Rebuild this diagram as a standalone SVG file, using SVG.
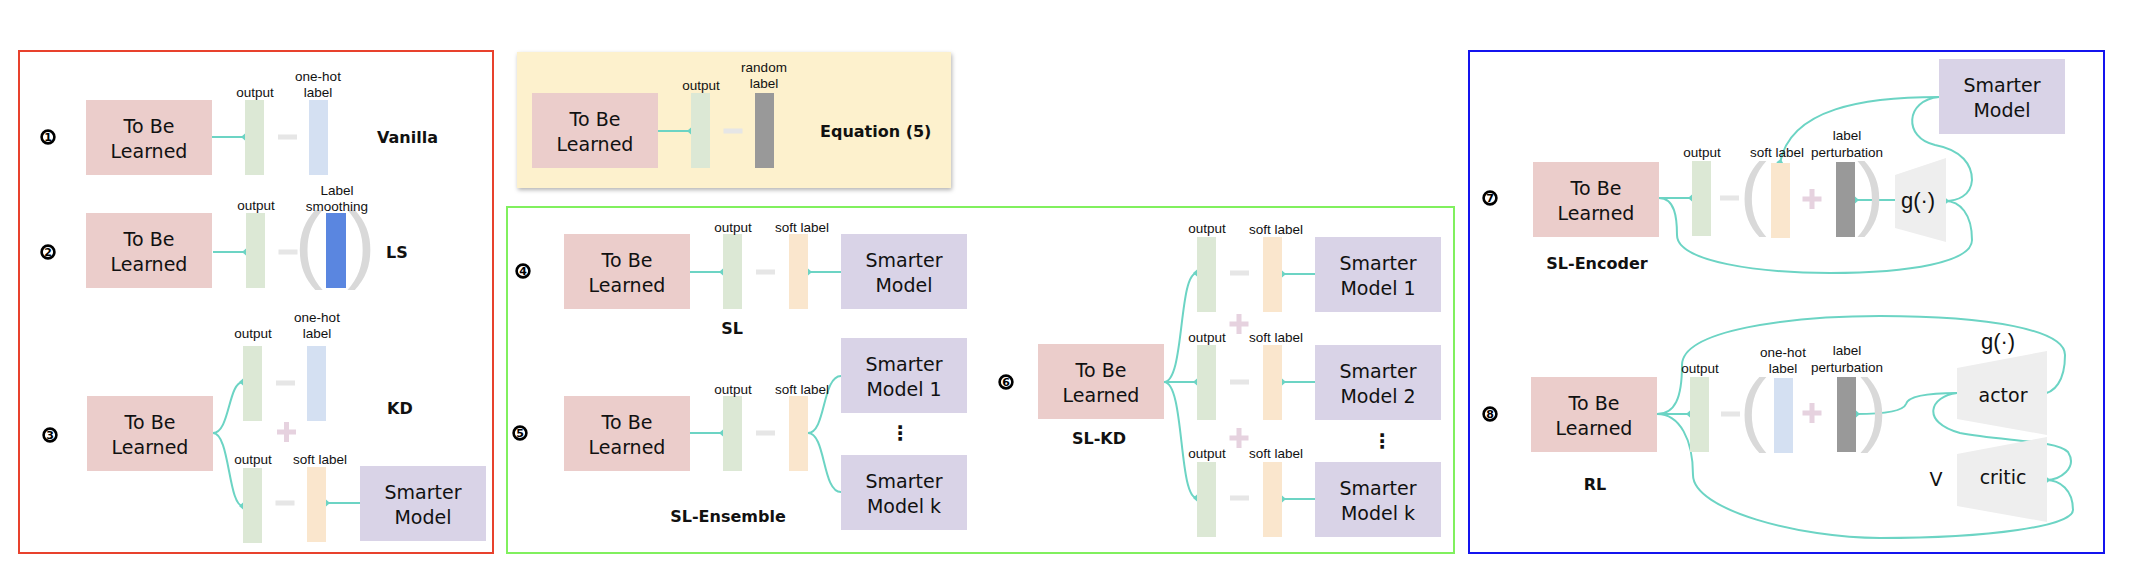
<svg xmlns="http://www.w3.org/2000/svg" xmlns:xlink="http://www.w3.org/1999/xlink" width="2130" height="570" viewBox="0 0 2130 570">
<style>
.tb{fill:#ebcdcb}
.sm{fill:#d9d3e7}
.out{fill:#dce8d5}
.oh{fill:#d4e0f2}
.sf{fill:#fae6cd}
.gr{fill:#999999}
.trap{fill:#eeeeee}
.t{font-family:"DejaVu Sans",sans-serif;font-size:19px;text-anchor:middle;fill:#111}
.s{font-family:"Liberation Sans",Arial,sans-serif;font-size:13.5px;text-anchor:middle;fill:#111}
.b{font-family:"DejaVu Sans",sans-serif;font-weight:bold;font-size:16px;fill:#111}
.bm{text-anchor:middle}
.par{font-family:"Liberation Sans",Arial,sans-serif;fill:#d9d9d9}
.g{font-family:"Liberation Sans",Arial,sans-serif;font-size:22px;text-anchor:middle;fill:#111}
.c{fill:none;stroke:#6cd4c4;stroke-width:2}
.d{marker-end:url(#dm)}
.num circle{fill:#fff;stroke:#000;stroke-width:2.6}
.num text{font-family:"DejaVu Sans",sans-serif;font-weight:bold;font-size:11px;text-anchor:middle;fill:#000}
.dots{font-family:"DejaVu Sans",sans-serif;font-size:20px;font-weight:bold;text-anchor:middle;fill:#111}
</style>
<defs>
<marker id="dm" viewBox="-5 -5 10 10" markerWidth="10" markerHeight="10" refX="0" refY="0" orient="auto" markerUnits="userSpaceOnUse">
<path d="M-4,0 L0,-3.6 L4,0 L0,3.6Z" fill="#6cd4c4"/>
</marker>
<g id="minus"><rect x="-9.5" y="-2.5" width="19" height="5" fill="#e6e6e6"/></g>
<g id="plus" fill="#e6d2df"><rect x="-9.5" y="-2.5" width="19" height="5"/><rect x="-2.5" y="-10" width="5" height="20"/></g>
<filter id="shadow" x="-5%" y="-10%" width="110%" height="125%">
<feDropShadow dx="1" dy="2" stdDeviation="2" flood-color="#000" flood-opacity="0.3"/>
</filter>
</defs>
<rect width="2130" height="570" fill="#fff"/>

<!-- Panels -->
<g id="panels">
<rect x="19" y="51" width="474" height="502" fill="none" stroke="#e8412d" stroke-width="2"/>
<rect x="517" y="52" width="434" height="136" fill="#fdf1cd" filter="url(#shadow)"/>
<rect x="507" y="207" width="947" height="346" fill="none" stroke="#80f05e" stroke-width="2"/>
<rect x="1469" y="51" width="635" height="502" fill="none" stroke="#1414ee" stroke-width="2"/>
</g>

<!-- Connectors -->
<g id="connectors">
<path class="c d" d="M212,137 L245,137"/>
<path class="c d" d="M213,252 L246,252"/>
<path class="c d" d="M213,433 C230,433 228,382 243,382"/>
<path class="c d" d="M213,433 C230,433 228,506 243,506"/>
<path class="c d" d="M360,503 L326,503"/>
<path class="c d" d="M658,131 L691,131"/>
<path class="c d" d="M690,272 L723,272"/>
<path class="c d" d="M841,272 L808,272"/>
<path class="c d" d="M690,433 L723,433"/>
<path class="c" d="M808,433 C826,433 822,376 841,376"/>
<path class="c" d="M808,433 C826,433 822,492 841,492"/>
<path class="c d" d="M1164,382 C1185,382 1178,273 1197,273"/>
<path class="c d" d="M1164,382 L1197,382"/>
<path class="c d" d="M1164,382 C1185,382 1178,498 1197,498"/>
<path class="c d" d="M1315,274 L1282,274"/>
<path class="c d" d="M1315,382 L1282,382"/>
<path class="c d" d="M1315,499 L1282,499"/>
<path class="c d" d="M1659,198 L1692,198"/>
<path class="c d" d="M1659,198 C1675,198 1677,218 1677,235 C1677,262 1760,273 1830,273 C1910,273 1972,262 1972,240 C1972,214 1960,201 1945,201"/>
<path class="c d" d="M1939,97 C1865,97 1790,108 1780,163"/>
<path class="c d" d="M1939,97 C1905,100 1903,138 1935,145 C1962,150 1972,165 1972,180 C1971,196 1957,201 1945,201"/>
<path class="c d" d="M1895,200 L1855,200"/>
<path class="c d" d="M1657,414 L1690,414"/>
<path class="c d" d="M1657,414 C1675,414 1682,398 1682,365 C1682,330 1790,316 1880,316 C1990,316 2065,330 2065,355 C2065,380 2055,394 2040,394"/>
<path class="c d" d="M1657,414 C1680,414 1693,440 1693,475 C1693,510 1800,538 1880,538 C1990,538 2073,526 2073,510 C2073,490 2060,480 2046,480"/>
<path class="c d" d="M1957,393 C1925,393 1908,397 1906,404 C1903,412 1880,414 1856,414"/>
<path class="c d" d="M1957,393 C1930,396 1920,422 1960,433 C2000,441 2058,440 2068,452 C2078,468 2060,480 2046,480"/>
</g>

<!-- Row 1: Vanilla -->
<g id="n1">
<g class="num"><circle cx="48" cy="137" r="6.4"/><text x="48" y="141">1</text></g>
<rect class="tb" x="86" y="100" width="126" height="75"/>
<text class="t" x="149" y="133">To Be</text><text class="t" x="149" y="158">Learned</text>
<rect class="out" x="245" y="100" width="19" height="75"/>
<text class="s" x="255" y="97">output</text>
<use href="#minus" x="287.5" y="137"/>
<rect class="oh" x="309" y="100" width="19" height="75"/>
<text class="s" x="318" y="81">one-hot</text><text class="s" x="318" y="97">label</text>
<text class="b" x="377" y="143">Vanilla</text>
</g>

<!-- Row 2: LS -->
<g id="n2">
<g class="num"><circle cx="48" cy="252" r="6.4"/><text x="48" y="256">2</text></g>
<rect class="tb" x="86" y="213" width="126" height="75"/>
<text class="t" x="149" y="246">To Be</text><text class="t" x="149" y="271">Learned</text>
<rect class="out" x="246" y="213" width="19" height="75"/>
<text class="s" x="256" y="210">output</text>
<use href="#minus" x="288" y="252"/>
<text class="par" x="294.5" y="271.5" font-size="86">(</text>
<rect x="326" y="213" width="20" height="75" fill="#5a86e0"/>
<text class="par" x="347" y="271.5" font-size="86">)</text>
<text class="s" x="337" y="195">Label</text><text class="s" x="337" y="211">smoothing</text>
<text class="b" x="386" y="258">LS</text>
</g>

<!-- Row 3: KD -->
<g id="n3">
<g class="num"><circle cx="50" cy="435" r="6.4"/><text x="50" y="439">3</text></g>
<rect class="tb" x="87" y="396" width="126" height="75"/>
<text class="t" x="150" y="429">To Be</text><text class="t" x="150" y="454">Learned</text>
<rect class="out" x="243" y="346" width="19" height="75"/>
<text class="s" x="253" y="338">output</text>
<use href="#minus" x="285.5" y="383"/>
<rect class="oh" x="307" y="346" width="19" height="75"/>
<text class="s" x="317" y="322">one-hot</text><text class="s" x="317" y="338">label</text>
<text class="b" x="387" y="414">KD</text>
<use href="#plus" x="286.5" y="432"/>
<rect class="out" x="243" y="468" width="19" height="75"/>
<text class="s" x="253" y="464">output</text>
<use href="#minus" x="285" y="503"/>
<rect class="sf" x="307" y="467" width="19" height="75"/>
<text class="s" x="320" y="464">soft label</text>
<rect class="sm" x="360" y="466" width="126" height="75"/>
<text class="t" x="423" y="499">Smarter</text><text class="t" x="423" y="524">Model</text>
</g>

<!-- Equation (5) -->
<g id="n-eq5">
<rect class="tb" x="532" y="93" width="126" height="75"/>
<text class="t" x="595" y="126">To Be</text><text class="t" x="595" y="151">Learned</text>
<rect class="out" x="691" y="93" width="19" height="75"/>
<text class="s" x="701" y="90">output</text>
<use href="#minus" x="733" y="131"/>
<rect class="gr" x="755" y="93" width="19" height="75"/>
<text class="s" x="764" y="72">random</text><text class="s" x="764" y="88">label</text>
<text class="b" x="820" y="137">Equation (5)</text>
</g>

<!-- Row 4: SL -->
<g id="n4">
<g class="num"><circle cx="523" cy="271" r="6.4"/><text x="523" y="275">4</text></g>
<rect class="tb" x="564" y="234" width="126" height="75"/>
<text class="t" x="627" y="267">To Be</text><text class="t" x="627" y="292">Learned</text>
<rect class="out" x="723" y="234" width="19" height="75"/>
<text class="s" x="733" y="232">output</text>
<use href="#minus" x="765.5" y="272"/>
<rect class="sf" x="789" y="234" width="19" height="75"/>
<text class="s" x="802" y="232">soft label</text>
<rect class="sm" x="841" y="234" width="126" height="75"/>
<text class="t" x="904" y="267">Smarter</text><text class="t" x="904" y="292">Model</text>
<text class="b bm" x="732" y="334">SL</text>
</g>

<!-- Row 5: SL-Ensemble -->
<g id="n5">
<g class="num"><circle cx="520" cy="433" r="6.4"/><text x="520" y="437">5</text></g>
<rect class="tb" x="564" y="396" width="126" height="75"/>
<text class="t" x="627" y="429">To Be</text><text class="t" x="627" y="454">Learned</text>
<rect class="out" x="723" y="396" width="19" height="75"/>
<text class="s" x="733" y="394">output</text>
<use href="#minus" x="765.5" y="433"/>
<rect class="sf" x="789" y="396" width="19" height="75"/>
<text class="s" x="802" y="394">soft label</text>
<rect class="sm" x="841" y="338" width="126" height="75"/>
<text class="t" x="904" y="371">Smarter</text><text class="t" x="904" y="396">Model 1</text>
<text class="dots" x="900" y="440">⋮</text>
<rect class="sm" x="841" y="455" width="126" height="75"/>
<text class="t" x="904" y="488">Smarter</text><text class="t" x="904" y="513">Model k</text>
<text class="b bm" x="728" y="522">SL-Ensemble</text>
</g>

<!-- Row 6: SL-KD -->
<g id="n6">
<g class="num"><circle cx="1006" cy="382" r="6.4"/><text x="1006" y="386">6</text></g>
<rect class="tb" x="1038" y="344" width="126" height="75"/>
<text class="t" x="1101" y="377">To Be</text><text class="t" x="1101" y="402">Learned</text>
<text class="b bm" x="1099" y="444">SL-KD</text>
<rect class="out" x="1197" y="237" width="19" height="75"/>
<rect class="out" x="1197" y="345" width="19" height="75"/>
<rect class="out" x="1197" y="462" width="19" height="75"/>
<text class="s" x="1207" y="233">output</text>
<text class="s" x="1207" y="342">output</text>
<text class="s" x="1207" y="458">output</text>
<use href="#minus" x="1239.5" y="273"/>
<use href="#minus" x="1239.5" y="382"/>
<use href="#minus" x="1239.5" y="498"/>
<use href="#plus" x="1239" y="324"/>
<use href="#plus" x="1239" y="438"/>
<rect class="sf" x="1263" y="237" width="19" height="75"/>
<rect class="sf" x="1263" y="345" width="19" height="75"/>
<rect class="sf" x="1263" y="462" width="19" height="75"/>
<text class="s" x="1276" y="234">soft label</text>
<text class="s" x="1276" y="342">soft label</text>
<text class="s" x="1276" y="458">soft label</text>
<rect class="sm" x="1315" y="237" width="126" height="75"/>
<text class="t" x="1378" y="270">Smarter</text><text class="t" x="1378" y="295">Model 1</text>
<rect class="sm" x="1315" y="345" width="126" height="75"/>
<text class="t" x="1378" y="378">Smarter</text><text class="t" x="1378" y="403">Model 2</text>
<text class="dots" x="1382" y="448">⋮</text>
<rect class="sm" x="1315" y="462" width="126" height="75"/>
<text class="t" x="1378" y="495">Smarter</text><text class="t" x="1378" y="520">Model k</text>
</g>

<!-- Row 7: SL-Encoder -->
<g id="n7">
<g class="num"><circle cx="1490" cy="198" r="6.4"/><text x="1490" y="202">7</text></g>
<rect class="tb" x="1533" y="162" width="126" height="75"/>
<text class="t" x="1596" y="195">To Be</text><text class="t" x="1596" y="220">Learned</text>
<text class="b bm" x="1597" y="269">SL-Encoder</text>
<rect class="out" x="1692" y="161" width="19" height="75"/>
<text class="s" x="1702" y="157">output</text>
<use href="#minus" x="1729.5" y="198"/>
<text class="par" x="1739.5" y="220" font-size="82">(</text>
<rect class="sf" x="1771" y="163" width="19" height="75"/>
<text class="s" x="1777" y="157">soft label</text>
<use href="#plus" x="1812" y="199"/>
<rect class="gr" x="1836" y="162" width="19" height="75"/>
<text class="s" x="1847" y="140">label</text><text class="s" x="1847" y="157">perturbation</text>
<text class="par" x="1857" y="220" font-size="82">)</text>
<polygon class="trap" points="1895,175 1946,158 1946,242 1895,228"/>
<text class="g" x="1918" y="208">g(·)</text>
<rect class="sm" x="1939" y="59" width="126" height="75"/>
<text class="t" x="2002" y="92">Smarter</text><text class="t" x="2002" y="117">Model</text>
</g>

<!-- Row 8: RL -->
<g id="n8">
<g class="num"><circle cx="1490" cy="414" r="6.4"/><text x="1490" y="418">8</text></g>
<rect class="tb" x="1531" y="377" width="126" height="75"/>
<text class="t" x="1594" y="410">To Be</text><text class="t" x="1594" y="435">Learned</text>
<text class="b bm" x="1595" y="490">RL</text>
<rect class="out" x="1690" y="377" width="19" height="75"/>
<text class="s" x="1700" y="373">output</text>
<use href="#minus" x="1730.5" y="414"/>
<text class="par" x="1739.5" y="436" font-size="82">(</text>
<rect class="oh" x="1774" y="378" width="19" height="75"/>
<text class="s" x="1783" y="357">one-hot</text><text class="s" x="1783" y="373">label</text>
<use href="#plus" x="1812" y="413"/>
<rect class="gr" x="1837" y="377" width="19" height="75"/>
<text class="s" x="1847" y="355">label</text><text class="s" x="1847" y="372">perturbation</text>
<text class="par" x="1860" y="436" font-size="82">)</text>
<text class="g" x="1998" y="349">g(·)</text>
<polygon class="trap" points="1957,368 2047,351 2047,435 1957,419"/>
<text class="t" x="2003" y="402">actor</text>
<text class="t" x="1936" y="486" font-size="17">V</text>
<polygon class="trap" points="1957,454 2047,437 2047,522 1957,506"/>
<text class="t" x="2003" y="484">critic</text>
</g>
</svg>
